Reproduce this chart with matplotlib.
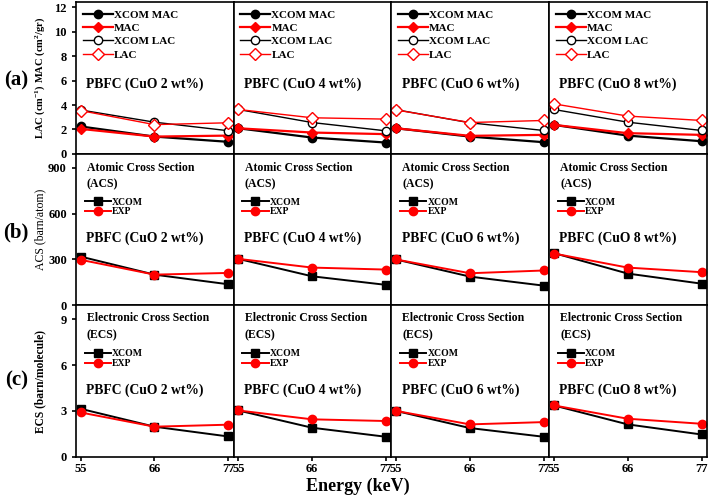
import numpy as np
import matplotlib
matplotlib.use('Agg')
import matplotlib.pyplot as plt

plt.rcParams['font.family'] = ['Liberation Serif', 'DejaVu Serif']
plt.rcParams['font.weight'] = 'bold'
plt.rcParams['axes.labelweight'] = 'bold'
plt.rcParams['mathtext.fontset'] = 'custom'
plt.rcParams['mathtext.rm'] = 'Liberation Serif:bold'
plt.rcParams['mathtext.default'] = 'rm'

# data
energy = [55, 66, 77]
samples = ['PBFC (CuO 2 wt%)', 'PBFC (CuO 4 wt%)', 'PBFC (CuO 6 wt%)', 'PBFC (CuO 8 wt%)']

xcom_mac = [[2.25, 1.42, 0.99], [2.10, 1.34, 0.93], [2.10, 1.42, 0.96], [2.38, 1.50, 1.04]]
mac = [[2.05, 1.42, 1.50], [2.10, 1.75, 1.62], [2.10, 1.48, 1.56], [2.38, 1.70, 1.56]]
xcom_lac = [[3.60, 2.60, 1.90], [3.64, 2.57, 1.89], [3.62, 2.55, 1.92], [3.64, 2.60, 1.92]]
lac = [[3.55, 2.40, 2.55], [3.64, 2.96, 2.85], [3.60, 2.57, 2.74], [4.10, 3.10, 2.74]]

acs_xcom = [[319, 201, 138], [304, 190, 134], [300, 188, 129], [342, 208, 142]]
acs_exp = [[298, 201, 212], [304, 247, 234], [300, 210, 228], [339, 247, 217]]

ecs_xcom = [[3.14, 1.97, 1.33], [3.03, 1.90, 1.31], [3.00, 1.88, 1.31], [3.36, 2.12, 1.46]]
ecs_exp = [[2.90, 1.97, 2.10], [3.03, 2.45, 2.34], [3.00, 2.12, 2.27], [3.36, 2.49, 2.16]]

fig, axes = plt.subplots(3, 4, figsize=(7.09, 4.96), dpi=100)
fig.subplots_adjust(left=0.107, right=0.997, top=0.995, bottom=0.079, hspace=0, wspace=0)

for j in range(4):
    # row a
    ax = axes[0, j]
    ax.plot(energy, xcom_mac[j], '-o', color='black', lw=1.6, ms=6, label='XCOM MAC')
    ax.plot(energy, mac[j], '-D', color='red', lw=1.6, ms=5.5, label='MAC')
    ax.plot(energy, xcom_lac[j], '-o', color='black', lw=1.0, ms=6, mfc='white', label='XCOM LAC')
    ax.plot(energy, lac[j], '-D', color='red', lw=1.0, ms=6, mfc='white', label='LAC')
    ax.set_ylim(0, 12.4)
    ax.set_yticks([0, 2, 4, 6, 8, 10, 12])
    ax.legend(loc='upper left', frameon=False, fontsize=8, handlelength=2.7,
              labelspacing=0.32, borderaxespad=0.2, handletextpad=0.1,
              bbox_to_anchor=(0.0, 0.995))
    ax.text(0.065, 0.46, samples[j], transform=ax.transAxes, fontsize=9.8, va='center')

    # row b
    ax = axes[1, j]
    ax.plot(energy, acs_xcom[j], '-s', color='black', lw=1.4, ms=5.5, label='XCOM')
    ax.plot(energy, acs_exp[j], '-o', color='red', lw=1.4, ms=6, label='EXP')
    ax.set_ylim(0, 990)
    ax.set_yticks([0, 300, 600, 900])
    ax.text(0.07, 0.91, 'Atomic Cross Section', transform=ax.transAxes, fontsize=8.5, va='center')
    ax.text(0.07, 0.80, '(ACS)', transform=ax.transAxes, fontsize=8.5, va='center')
    ax.legend(loc='upper left', frameon=False, fontsize=7, handlelength=2.7,
              labelspacing=0.1, handletextpad=0.1, bbox_to_anchor=(0.0, 0.77))
    ax.text(0.065, 0.44, samples[j], transform=ax.transAxes, fontsize=9.8, va='center')

    # row c
    ax = axes[2, j]
    ax.plot(energy, ecs_xcom[j], '-s', color='black', lw=1.4, ms=5.5, label='XCOM')
    ax.plot(energy, ecs_exp[j], '-o', color='red', lw=1.4, ms=6, label='EXP')
    ax.set_ylim(0, 9.9)
    ax.set_yticks([0, 3, 6, 9])
    ax.text(0.07, 0.915, 'Electronic Cross Section', transform=ax.transAxes, fontsize=8.5, va='center')
    ax.text(0.07, 0.805, '(ECS)', transform=ax.transAxes, fontsize=8.5, va='center')
    ax.legend(loc='upper left', frameon=False, fontsize=7, handlelength=2.7,
              labelspacing=0.1, handletextpad=0.1, bbox_to_anchor=(0.0, 0.77))
    ax.text(0.065, 0.44, samples[j], transform=ax.transAxes, fontsize=9.8, va='center')

for i in range(3):
    for j in range(4):
        ax = axes[i, j]
        ax.set_xlim(54.3, 77.8)
        ax.set_xticks(energy)
        for s in ax.spines.values():
            s.set_linewidth(1.2)
        ax.tick_params(direction='out', width=1.2, length=3, labelsize=9)
        ax.tick_params(axis='x', pad=1.5)
        if j > 0:
            ax.tick_params(axis='y', left=False, labelleft=False)
        if i < 2:
            ax.tick_params(axis='x', bottom=False, labelbottom=False)
        for lab in ax.get_xticklabels() + ax.get_yticklabels():
            lab.set_fontweight('bold')

axes[0, 0].set_ylabel('LAC (cm$^{-1}$) MAC (cm$^{2}$/gr)', fontsize=7.6)
axes[1, 0].set_ylabel('ACS (barn/atom)', fontsize=8.5, fontweight='normal')
axes[2, 0].set_ylabel('ECS (barn/molecule)', fontsize=8.3)
for i in range(3):
    axes[i, 0].yaxis.set_label_coords(-0.185, 0.5)

label_y = [0.838, 0.532, 0.232]
for lab, y in zip(['(a)', '(b)', '(c)'], label_y):
    fig.text(0.023, y, lab, fontsize=15, fontweight='bold', ha='center', va='center')

fig.text(0.504, 0.02, 'Energy (keV)', fontsize=13, fontweight='bold', ha='center', va='center')

fig.savefig('out.png', dpi=100)
